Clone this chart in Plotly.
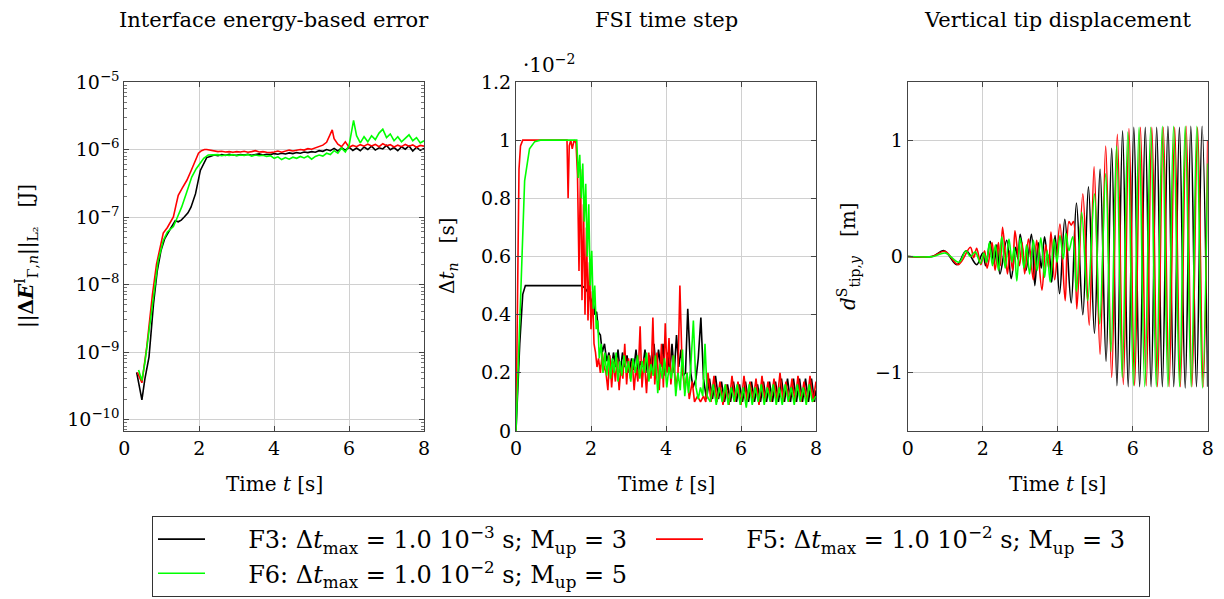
import plotly.graph_objects as go
from plotly.subplots import make_subplots

FONT = "DejaVu Serif"

# ---- panel 1: interface energy-based error [J] ----
T1_F3 = [0.33, 0.4, 0.47, 0.55, 0.66, 0.78, 0.88, 0.98, 1.08, 1.18,
         1.28, 1.36, 1.44, 1.52, 1.6, 1.7, 1.78, 1.9, 2.03, 2.12,
         2.2, 2.29, 2.4, 2.5, 2.6, 2.7, 2.8, 2.9, 3.0, 3.1,
         3.2, 3.3, 3.4, 3.5, 3.6, 3.7, 3.8, 3.9, 4.0, 4.1,
         4.2, 4.3, 4.4, 4.5, 4.6, 4.7, 4.8, 4.9, 5.0, 5.1,
         5.2, 5.3, 5.4, 5.5, 5.6, 5.7, 5.8, 5.9, 6.0, 6.1,
         6.2, 6.3, 6.4, 6.5, 6.6, 6.7, 6.8, 6.9, 7.0, 7.1,
         7.2, 7.3, 7.4, 7.5, 7.6, 7.7, 7.8, 7.9, 8.0]
E1_F3 = [5.0e-10, 3.0e-10, 1.95e-10, 4.0e-10, 8.5e-10, 5.2e-9, 1.6e-8, 3.2e-8, 4.8e-8, 6.0e-8,
         7.5e-8, 8.8e-8, 8.5e-8, 9.0e-8, 1.0e-7, 1.15e-7, 1.4e-7, 2.2e-7, 4.9e-7, 6.2e-7,
         7.6e-7, 7.9e-7, 8.3e-7, 8.1e-7, 8.4e-7, 8.2e-7, 8.5e-7, 8.3e-7, 8.2e-7, 8.4e-7,
         8.3e-7, 8.5e-7, 8.2e-7, 8.4e-7, 8.6e-7, 8.3e-7, 8.5e-7, 8.4e-7, 8.7e-7, 8.5e-7,
         8.8e-7, 8.6e-7, 8.9e-7, 8.7e-7, 9.0e-7, 8.8e-7, 9.2e-7, 9.0e-7, 9.3e-7, 9.1e-7,
         9.6e-7, 9.4e-7, 1.0e-6, 9.6e-7, 1.04e-6, 9.5e-7, 1.06e-6, 9.8e-7, 1.08e-6, 9.7e-7,
         1.05e-6, 9.6e-7, 1.09e-6, 1.0e-6, 1.12e-6, 9.8e-7, 1.06e-6, 1.02e-6, 1.15e-6, 9.9e-7,
         1.07e-6, 9.6e-7, 1.1e-6, 1.01e-6, 1.13e-6, 9.5e-7, 1.08e-6, 9.7e-7, 1.04e-6]

T1_F5 = [0.35, 0.47, 0.6, 0.75, 0.86, 0.95, 1.04, 1.15, 1.25, 1.31,
         1.38, 1.44, 1.55, 1.67, 1.78, 1.89, 1.98, 2.06, 2.14, 2.2,
         2.3, 2.4, 2.5, 2.6, 2.7, 2.8, 2.9, 3.0, 3.1, 3.2,
         3.3, 3.4, 3.5, 3.6, 3.7, 3.8, 3.9, 4.0, 4.1, 4.2,
         4.3, 4.4, 4.5, 4.6, 4.7, 4.8, 4.9, 5.0, 5.1, 5.2,
         5.3, 5.4, 5.5, 5.55, 5.6, 5.7, 5.8, 5.9, 6.0, 6.1,
         6.2, 6.3, 6.4, 6.5, 6.6, 6.7, 6.8, 6.9, 7.0, 7.1,
         7.2, 7.3, 7.4, 7.5, 7.6, 7.7, 7.8, 7.9, 8.0]
E1_F5 = [5.0e-10, 3.5e-10, 1.2e-9, 7.0e-9, 2.0e-8, 3.5e-8, 5.8e-8, 7.0e-8, 9.0e-8, 1.0e-7,
         1.5e-7, 2.1e-7, 2.7e-7, 3.5e-7, 4.8e-7, 6.9e-7, 8.8e-7, 9.6e-7, 1.0e-6, 1.0e-6,
         9.7e-7, 9.5e-7, 9.3e-7, 9.4e-7, 9.2e-7, 9.3e-7, 9.1e-7, 9.3e-7, 9.2e-7, 9.4e-7,
         9.1e-7, 9.3e-7, 9.6e-7, 9.2e-7, 9.3e-7, 9.1e-7, 9.0e-7, 9.2e-7, 9.5e-7, 9.1e-7,
         9.4e-7, 9.8e-7, 9.5e-7, 9.7e-7, 1.0e-6, 9.8e-7, 1.03e-6, 1.01e-6, 1.06e-6, 1.09e-6,
         1.16e-6, 1.28e-6, 1.7e-6, 1.95e-6, 1.45e-6, 1.2e-6, 1.1e-6, 1.3e-6, 1.08e-6, 1.15e-6,
         1.1e-6, 1.18e-6, 1.12e-6, 1.2e-6, 1.13e-6, 1.19e-6, 1.1e-6, 1.22e-6, 1.14e-6, 1.18e-6,
         1.09e-6, 1.16e-6, 1.1e-6, 1.19e-6, 1.12e-6, 1.17e-6, 1.08e-6, 1.15e-6, 1.12e-6]

T1_F6 = [0.38, 0.47, 0.55, 0.65, 0.77, 0.9, 1.04, 1.15, 1.31, 1.42,
         1.53, 1.65, 1.8, 1.92, 2.02, 2.12, 2.24, 2.3, 2.4, 2.5,
         2.6, 2.7, 2.8, 2.9, 3.0, 3.1, 3.2, 3.3, 3.4, 3.5,
         3.6, 3.7, 3.8, 3.9, 4.0, 4.1, 4.2, 4.3, 4.4, 4.5,
         4.6, 4.7, 4.8, 4.9, 5.0, 5.1, 5.2, 5.3, 5.4, 5.5,
         5.6, 5.7, 5.8, 5.9, 6.0, 6.05, 6.12, 6.2, 6.3, 6.4,
         6.5, 6.6, 6.7, 6.8, 6.9, 7.0, 7.1, 7.2, 7.3, 7.4,
         7.5, 7.6, 7.7, 7.8, 7.9, 8.0]
E1_F6 = [5.4e-10, 3.8e-10, 7.0e-10, 2.0e-9, 6.0e-9, 2.2e-8, 4.5e-8, 6.0e-8, 7.2e-8, 1.0e-7,
         1.4e-7, 2.2e-7, 3.9e-7, 5.2e-7, 6.2e-7, 7.4e-7, 8.3e-7, 8.3e-7, 8.2e-7, 8.4e-7,
         8.1e-7, 8.3e-7, 8.2e-7, 8.4e-7, 8.1e-7, 8.3e-7, 8.2e-7, 8.4e-7, 8.0e-7, 8.3e-7,
         8.1e-7, 8.2e-7, 7.9e-7, 8.1e-7, 7.4e-7, 7.8e-7, 7.1e-7, 7.6e-7, 7.2e-7, 7.7e-7,
         7.4e-7, 7.9e-7, 7.5e-7, 8.0e-7, 7.2e-7, 7.9e-7, 8.3e-7, 8.0e-7, 8.8e-7, 8.4e-7,
         9.6e-7, 8.8e-7, 1.05e-6, 9.2e-7, 1.15e-6, 1.6e-6, 2.7e-6, 1.6e-6, 1.25e-6, 1.55e-6,
         1.3e-6, 1.6e-6, 1.4e-6, 1.75e-6, 2.0e-6, 1.5e-6, 1.7e-6, 1.35e-6, 1.55e-6, 1.3e-6,
         1.45e-6, 1.65e-6, 1.35e-6, 1.5e-6, 1.25e-6, 1.35e-6]

# ---- panel 2: FSI time step [1e-2 s] ----
T2_F3 = [0, 0.1, 0.18, 0.25, 1.75, 1.85, 1.95, 2.0, 2.05, 2.1,
         2.15, 2.2, 2.25, 2.3, 2.36, 2.42, 2.48, 2.54, 2.6, 2.66,
         2.72, 2.78, 2.84, 2.9, 2.96, 3.02, 3.08, 3.14, 3.2, 3.26,
         3.32, 3.38, 3.44, 3.5, 3.56, 3.62, 3.68, 3.74, 3.8, 3.86,
         3.92, 3.98, 4.04, 4.1, 4.16, 4.22, 4.28, 4.34, 4.4, 4.46,
         4.52, 4.58, 4.66, 4.72, 4.8, 4.86, 4.93, 5.0, 5.08, 5.16,
         5.24, 5.32, 5.4, 5.48, 5.56, 5.64, 5.72, 5.8, 5.88, 5.96,
         6.04, 6.12, 6.2, 6.28, 6.36, 6.44, 6.52, 6.6, 6.68, 6.76,
         6.84, 6.92, 7.0, 7.08, 7.16, 7.24, 7.32, 7.4, 7.48, 7.56,
         7.64, 7.72, 7.8, 7.88, 7.96, 8.0]
D2_F3 = [0, 0.3, 0.47, 0.5, 0.5, 0.49, 0.47, 0.44, 0.46, 0.4,
         0.41, 0.34, 0.33, 0.27, 0.3, 0.24, 0.27, 0.21, 0.27, 0.22,
         0.28, 0.2, 0.27, 0.22, 0.26, 0.2, 0.25, 0.21, 0.28, 0.2,
         0.24, 0.22, 0.28, 0.2, 0.26, 0.21, 0.3, 0.2, 0.28, 0.22,
         0.3, 0.19, 0.27, 0.2, 0.3, 0.2, 0.33, 0.22, 0.28, 0.19,
         0.2, 0.42, 0.2, 0.15, 0.18, 0.25, 0.39, 0.18, 0.11, 0.18,
         0.11, 0.19, 0.11, 0.17, 0.1, 0.16, 0.1, 0.17, 0.1, 0.16,
         0.1, 0.17, 0.1, 0.17, 0.1, 0.16, 0.1, 0.17, 0.1, 0.17,
         0.1, 0.17, 0.1, 0.18, 0.1, 0.18, 0.1, 0.18, 0.1, 0.18,
         0.1, 0.18, 0.1, 0.18, 0.1, 0.14]

T2_F5 = [0, 0.04, 0.08, 0.12, 0.18, 1.36, 1.39, 1.42, 1.46, 1.5,
         1.55, 1.6, 1.64, 1.68, 1.72, 1.76, 1.8, 1.84, 1.88, 1.92,
         1.96, 2.0, 2.04, 2.08, 2.12, 2.16, 2.2, 2.25, 2.3, 2.35,
         2.4, 2.45, 2.5, 2.55, 2.6, 2.65, 2.7, 2.75, 2.8, 2.85,
         2.9, 2.95, 3.0, 3.05, 3.1, 3.15, 3.2, 3.25, 3.31, 3.36,
         3.42, 3.48, 3.54, 3.6, 3.65, 3.7, 3.76, 3.82, 3.88, 3.93,
         3.98, 4.03, 4.08, 4.13, 4.2, 4.26, 4.32, 4.37, 4.43, 4.5,
         4.56, 4.62, 4.7, 4.76, 4.84, 4.92, 5.0, 5.06, 5.12, 5.2,
         5.28, 5.36, 5.44, 5.52, 5.6, 5.68, 5.76, 5.84, 5.92, 6.0,
         6.08, 6.16, 6.24, 6.32, 6.4, 6.48, 6.56, 6.64, 6.72, 6.8,
         6.88, 6.96, 7.04, 7.12, 7.2, 7.28, 7.36, 7.44, 7.52, 7.6,
         7.68, 7.76, 7.84, 7.92, 8.0]
D2_F5 = [0, 0.5, 0.9, 0.98, 1.0, 1.0, 0.8, 0.98, 1.0, 0.97,
         1.0, 0.99, 0.88, 0.55, 0.9, 0.45, 0.78, 0.4, 0.7, 0.38,
         0.58, 0.35, 0.48, 0.3, 0.27, 0.22, 0.25, 0.2, 0.27, 0.22,
         0.2, 0.14, 0.26, 0.15, 0.24, 0.17, 0.25, 0.14, 0.22, 0.18,
         0.3, 0.16, 0.25, 0.18, 0.24, 0.14, 0.22, 0.17, 0.36, 0.15,
         0.25, 0.13, 0.27, 0.18, 0.39, 0.16, 0.27, 0.14, 0.3, 0.15,
         0.37, 0.2, 0.32, 0.16, 0.26, 0.15, 0.2, 0.5, 0.22, 0.14,
         0.2, 0.11, 0.17, 0.1, 0.12, 0.1, 0.12, 0.1, 0.2, 0.1,
         0.19, 0.1, 0.17, 0.09, 0.16, 0.09, 0.19, 0.1, 0.17, 0.09,
         0.19, 0.1, 0.17, 0.1, 0.18, 0.09, 0.19, 0.1, 0.17, 0.1,
         0.18, 0.1, 0.2, 0.1, 0.17, 0.1, 0.18, 0.1, 0.19, 0.1,
         0.17, 0.1, 0.19, 0.1, 0.17]

T2_F6 = [0, 0.08, 0.15, 0.23, 0.36, 0.5, 0.65, 1.62, 1.66, 1.7,
         1.74, 1.78, 1.82, 1.86, 1.9, 1.94, 1.98, 2.02, 2.06, 2.1,
         2.14, 2.18, 2.22, 2.27, 2.32, 2.37, 2.42, 2.47, 2.52, 2.57,
         2.62, 2.67, 2.72, 2.77, 2.82, 2.88, 2.94, 3.0, 3.06, 3.12,
         3.18, 3.24, 3.3, 3.36, 3.42, 3.48, 3.54, 3.6, 3.66, 3.72,
         3.78, 3.84, 3.9, 3.96, 4.02, 4.08, 4.14, 4.2, 4.26, 4.32,
         4.38, 4.44, 4.5, 4.56, 4.6, 4.66, 4.73, 4.8, 4.86, 4.92,
         4.98, 5.04, 5.1, 5.18, 5.26, 5.34, 5.42, 5.5, 5.58, 5.66,
         5.74, 5.82, 5.9, 5.98, 6.06, 6.14, 6.22, 6.3, 6.38, 6.46,
         6.54, 6.62, 6.7, 6.78, 6.86, 6.94, 7.02, 7.1, 7.18, 7.26,
         7.34, 7.42, 7.5, 7.58, 7.66, 7.74, 7.82, 7.9, 8.0]
D2_F6 = [0, 0.3, 0.52, 0.86, 0.97, 0.995, 1.0, 1.0, 0.87, 0.95,
         0.8, 0.92, 0.72, 0.85, 0.6, 0.78, 0.5, 0.62, 0.42, 0.5,
         0.35, 0.38, 0.25, 0.3, 0.2, 0.27, 0.19, 0.26, 0.18, 0.25,
         0.2, 0.27, 0.17, 0.24, 0.19, 0.26, 0.2, 0.24, 0.17, 0.25,
         0.2, 0.26, 0.18, 0.24, 0.2, 0.27, 0.17, 0.23, 0.19, 0.26,
         0.13, 0.23, 0.18, 0.25, 0.15, 0.22, 0.18, 0.26, 0.12, 0.2,
         0.14, 0.28, 0.12, 0.2, 0.13, 0.22, 0.38, 0.15, 0.11, 0.15,
         0.12, 0.3, 0.12, 0.1, 0.16, 0.09, 0.15, 0.1, 0.16, 0.09,
         0.15, 0.1, 0.16, 0.09, 0.15, 0.08, 0.16, 0.09, 0.15, 0.1,
         0.16, 0.09, 0.15, 0.1, 0.16, 0.09, 0.15, 0.09, 0.16, 0.1,
         0.15, 0.09, 0.16, 0.1, 0.15, 0.09, 0.16, 0.1, 0.12]

# ---- panel 3: vertical tip displacement [m], peaks and troughs ----
T3_F3 = [0, 0.65, 0.97, 1.31, 1.56, 1.84, 2.0, 2.08, 2.2, 2.3,
         2.38, 2.46, 2.64, 2.76, 2.88, 2.94, 3.0, 3.15, 3.3, 3.39,
         3.48, 3.56, 3.65, 3.74, 3.78, 3.84, 3.93, 4.05, 4.19, 4.36,
         4.5, 4.67, 4.82, 4.98, 5.13, 5.29, 5.44, 5.58, 5.73, 5.88,
         6.03, 6.185, 6.335, 6.49, 6.64, 6.79, 6.94, 7.095, 7.245, 7.4,
         7.55, 7.7, 7.85, 8.0]
Y3_F3 = [0, 0, 0.05, -0.07, 0.05, -0.07, 0.03, -0.08, 0.13, -0.06,
         0.1, -0.15, 0.14, -0.19, 0.08, -0.02, 0.19, -0.12, 0.19, -0.25,
         0.12, -0.1, 0.17, -0.05, 0.02, -0.22, 0.18, -0.32, 0.32, -0.4,
         0.46, -0.5, 0.6, -0.66, 0.75, -0.9, 0.93, -1.11, 1.08, -1.12,
         1.11, -1.12, 1.11, -1.12, 1.11, -1.12, 1.12, -1.12, 1.11, -1.13,
         1.12, -1.12, 1.12, -1.12]

T3_F5 = [0, 0.65, 0.99, 1.35, 1.67, 1.76, 1.84, 1.95, 2.05, 2.12,
         2.25, 2.33, 2.42, 2.47, 2.53, 2.66, 2.72, 2.8, 2.86, 2.98,
         3.05, 3.12, 3.22, 3.35, 3.44, 3.58, 3.68, 3.76, 3.82, 3.92,
         4.06, 4.2, 4.3, 4.36, 4.42, 4.51, 4.67, 4.84, 4.97, 5.13,
         5.28, 5.44, 5.59, 5.75, 5.9, 6.05, 6.205, 6.36, 6.51, 6.66,
         6.815, 6.97, 7.12, 7.27, 7.425, 7.58, 7.73, 7.88, 8.0]
Y3_F5 = [0, 0, 0.045, -0.07, 0.08, -0.01, 0.07, -0.07, 0.05, -0.1,
         0.12, -0.12, 0.12, -0.08, 0.25, -0.15, 0.05, -0.12, 0.22, -0.08,
         0.12, -0.15, 0.15, -0.2, 0.14, -0.29, 0.1, -0.1, 0.21, -0.2,
         0.28, -0.38, 0.3, 0.27, 0.3, -0.45, 0.54, -0.59, 0.77, -0.84,
         0.95, -1.04, 1.05, -1.1, 1.1, -1.11, 1.11, -1.11, 1.11, -1.12,
         1.11, -1.12, 1.11, -1.12, 1.12, -1.12, 1.11, -1.12, 1.0]

T3_F6 = [0, 0.68, 1.0, 1.37, 1.55, 1.67, 1.8, 1.94, 2.03, 2.1,
         2.18, 2.26, 2.34, 2.42, 2.51, 2.6, 2.7, 2.78, 2.84, 2.91,
         3.0, 3.1, 3.17, 3.25, 3.35, 3.45, 3.55, 3.65, 3.72, 3.8,
         3.9, 3.98, 4.06, 4.15, 4.22, 4.3, 4.4, 4.5, 4.64, 4.8,
         4.98, 5.12, 5.28, 5.42, 5.57, 5.72, 5.87, 6.02, 6.17, 6.32,
         6.48, 6.63, 6.79, 6.94, 7.09, 7.25, 7.4, 7.56, 7.71, 7.86,
         8.0]
Y3_F6 = [0, 0, 0.03, -0.05, 0.05, 0.0, 0.04, -0.06, 0.03, -0.05,
         0.12, -0.08, 0.1, -0.12, 0.17, -0.1, 0.15, -0.05, 0.08, -0.21,
         0.16, -0.1, 0.1, -0.15, 0.14, -0.12, 0.16, -0.18, 0.05, -0.22,
         0.15, -0.05, 0.18, -0.02, 0.2, 0.05, 0.17, -0.3, 0.38, -0.38,
         0.54, -0.58, 0.71, -0.82, 0.95, -1.04, 1.07, -1.11, 1.11, -1.12,
         1.11, -1.12, 1.12, -1.12, 1.12, -1.12, 1.12, -1.12, 1.12, -1.13,
         0.8]

GAP = "\u00a0" * 5  # room between the legend line and its text
NAMES = [
    GAP + "F3: Δ<i>t</i><sub>max</sub> = 1.0 10<sup>−3</sup> s; M<sub>up</sub> = 3",
    GAP + "F5: Δ<i>t</i><sub>max</sub> = 1.0 10<sup>−2</sup> s; M<sub>up</sub> = 3",
    GAP + "F6: Δ<i>t</i><sub>max</sub> = 1.0 10<sup>−2</sup> s; M<sub>up</sub> = 5",
]
COLORS = ["#000000", "#ff0000", "#00ff00"]

panels = [
    [(T1_F3, E1_F3), (T1_F5, E1_F5), (T1_F6, E1_F6)],
    [(T2_F3, D2_F3), (T2_F5, D2_F5), (T2_F6, D2_F6)],
    [(T3_F3, Y3_F3), (T3_F5, Y3_F5), (T3_F6, Y3_F6)],
]

fig = make_subplots(rows=1, cols=3)
for col, series in enumerate(panels, start=1):
    for k, (t, v) in enumerate(series):
        fig.add_trace(go.Scatter(
            x=t, y=v, mode="lines", name=NAMES[k],
            line=dict(color=COLORS[k], width=1.6,
                      shape="spline" if col == 3 else "linear"),
            showlegend=(col == 1), legendrank=k,
        ), row=1, col=col)

# the page puts the figure 8px in from the top-left corner
OFF = 8
W, H = 1224 - OFF, 599 - OFF
ML, MR, MT, MB = 116, 16, 74, 168
PW, PH = W - ML - MR, H - MT - MB


def px(x):  # page x -> paper x
    return (x - OFF - ML) / PW


def py(y):  # page y -> paper y
    return (H - MB - (y - OFF)) / PH


axis = dict(showline=True, linecolor="#444", linewidth=1, mirror="ticks",
            ticks="inside", ticklen=5, tickcolor="#444",
            showgrid=True, gridcolor="#d0d0d0", gridwidth=1, zeroline=False,
            tickfont=dict(family=FONT, size=19, color="black"))

domains = [(px(124.3), px(424)), (px(516), px(816)), (px(907.7), px(1207.7))]
for i, dom in enumerate(domains, start=1):
    fig.update_xaxes(axis, domain=[max(0, dom[0]), min(1, dom[1])], range=[0, 8],
                     tick0=0, dtick=2, row=1, col=i)

minor_vals = [m * 10.0 ** e for e in range(-11, -5) for m in range(2, 10)]
fig.update_yaxes(axis, type="log", range=[-10.17, -5],
                 tickvals=[1e-10, 1e-9, 1e-8, 1e-7, 1e-6, 1e-5],
                 ticktext=["10<sup>−10</sup>", "10<sup>−9</sup>", "10<sup>−8</sup>",
                           "10<sup>−7</sup>", "10<sup>−6</sup>", "10<sup>−5</sup>"],
                 minor=dict(tickvals=minor_vals, ticks="inside", ticklen=3,
                            tickcolor="#777", showgrid=False),
                 row=1, col=1)
fig.update_yaxes(axis, range=[0, 1.2], tick0=0, dtick=0.2, row=1, col=2)
fig.update_yaxes(axis, range=[-1.5, 1.5], tickvals=[-1, 0, 1], row=1, col=3)

tfont = dict(family=FONT, size=20, color="black")
ann = []
for title, dom in zip(["Interface energy-based error", "FSI time step",
                       "Vertical tip displacement"], domains):
    cx = (dom[0] + dom[1]) / 2
    ann.append(dict(text=title, x=cx, y=py(20), xref="paper", yref="paper",
                    showarrow=False, font=dict(family=FONT, size=21, color="black"),
                    xanchor="center", yanchor="middle"))
    ann.append(dict(text="Time <i>t</i> [s]", x=cx, y=py(484), xref="paper", yref="paper",
                    showarrow=False, font=tfont, xanchor="center", yanchor="middle"))

ylabels = [
    ("||<b>Δ<i>E</i></b><sup>I</sup><sub>Γ,<i>n</i></sub>||<sub>L₂</sub>   [J]", 26),
    ("Δ<i>t<sub>n</sub></i>   [s]", 448),
    ("<i>d</i><sup>S</sup><sub>tip,<i>y</i></sub>   [m]", 848),
]
for text, x in ylabels:
    ann.append(dict(text=text, x=px(x), y=py(256), xref="paper", yref="paper",
                    showarrow=False, font=tfont, textangle=-90,
                    xanchor="center", yanchor="middle"))

ann.append(dict(text="·10<sup>−2</sup>", x=px(521), y=py(64), xref="paper", yref="paper",
                showarrow=False, font=tfont, xanchor="left", yanchor="middle"))

fig.update_layout(
    width=W, height=H,
    margin=dict(l=ML, r=MR, t=MT, b=MB, autoexpand=False),
    paper_bgcolor="white", plot_bgcolor="white",
    font=dict(family=FONT, size=19, color="black"),
    annotations=ann,
    legend=dict(orientation="h", x=px(152), xanchor="left", y=py(516), yanchor="top",
                bordercolor="#333", borderwidth=1, bgcolor="white",
                itemwidth=47, entrywidth=436, entrywidthmode="pixels",
                font=dict(family=FONT, size=24, color="black"),
                traceorder="normal"),
)

fig.write_html("out.html")
